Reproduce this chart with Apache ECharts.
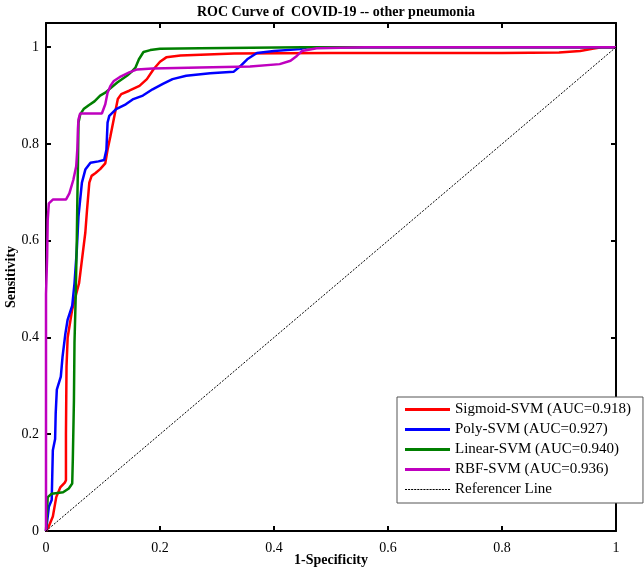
<!DOCTYPE html>
<html>
<head>
<meta charset="utf-8">
<script src="https://cdn.jsdelivr.net/npm/echarts@6/dist/echarts.min.js"></script>
<style>html,body{margin:0;padding:0;background:#fff}#c{width:644px;height:573px}</style>
</head>
<body>
<div id="c"></div>
<script>
const titleText = 'ROC Curve of  COVID-19 -- other pneumonia';
const xName = '1-Specificity';
const yName = 'Sensitivity';
const tickValues = [0, 0.2, 0.4, 0.6, 0.8, 1];
const seriesNames = ['Sigmoid-SVM (AUC=0.918)', 'Poly-SVM (AUC=0.927)', 'Linear-SVM (AUC=0.940)', 'RBF-SVM (AUC=0.936)', 'Referencer Line'];

const sigmoidROC = [[0,0],[0.005,0.01],[0.012,0.03],[0.018,0.07],[0.025,0.09],[0.033,0.1],[0.035,0.105],[0.035,0.2],[0.036,0.34],[0.038,0.4],[0.046,0.458],[0.053,0.49],[0.058,0.512],[0.063,0.56],[0.069,0.617],[0.072,0.664],[0.076,0.72],[0.08,0.734],[0.087,0.74],[0.095,0.748],[0.104,0.76],[0.108,0.788],[0.113,0.816],[0.12,0.858],[0.126,0.893],[0.132,0.903],[0.146,0.91],[0.164,0.92],[0.177,0.934],[0.189,0.955],[0.2,0.97],[0.211,0.979],[0.236,0.983],[0.33,0.987],[0.5,0.988],[0.8,0.988],[0.9,0.989],[0.937,0.992],[0.961,0.997],[0.975,1.0],[1,1]];
const polyROC = [[0,0],[0.003,0.03],[0.005,0.05],[0.01,0.064],[0.012,0.167],[0.016,0.19],[0.017,0.243],[0.019,0.292],[0.026,0.319],[0.029,0.36],[0.034,0.408],[0.038,0.437],[0.046,0.466],[0.05,0.512],[0.054,0.58],[0.057,0.651],[0.063,0.72],[0.069,0.747],[0.078,0.761],[0.092,0.764],[0.102,0.767],[0.106,0.788],[0.108,0.844],[0.111,0.858],[0.123,0.872],[0.14,0.882],[0.152,0.892],[0.17,0.9],[0.187,0.913],[0.205,0.924],[0.222,0.934],[0.246,0.941],[0.288,0.946],[0.329,0.949],[0.341,0.961],[0.353,0.975],[0.37,0.988],[0.4,0.992],[0.446,0.996],[0.458,1.0],[1,1]];
const linearROC = [[0,0],[0.003,0.07],[0.01,0.077],[0.03,0.08],[0.04,0.088],[0.046,0.098],[0.047,0.146],[0.049,0.27],[0.05,0.39],[0.052,0.48],[0.054,0.6],[0.055,0.684],[0.056,0.753],[0.057,0.844],[0.06,0.861],[0.066,0.872],[0.075,0.88],[0.085,0.888],[0.095,0.9],[0.104,0.906],[0.115,0.917],[0.125,0.927],[0.142,0.941],[0.15,0.949],[0.157,0.958],[0.163,0.975],[0.171,0.99],[0.183,0.994],[0.2,0.997],[0.27,0.998],[0.45,1.0],[1,1]];
const rbfROC = [[0,0],[0,0.49],[0.002,0.568],[0.003,0.643],[0.005,0.677],[0.012,0.685],[0.035,0.685],[0.041,0.698],[0.048,0.726],[0.053,0.754],[0.055,0.79],[0.056,0.83],[0.057,0.851],[0.06,0.863],[0.098,0.863],[0.104,0.882],[0.108,0.906],[0.113,0.92],[0.119,0.93],[0.129,0.938],[0.146,0.948],[0.16,0.954],[0.187,0.956],[0.27,0.958],[0.358,0.96],[0.41,0.965],[0.429,0.972],[0.44,0.982],[0.449,0.992],[0.475,0.998],[0.56,1],[1,1]];
const referenceLine = [[0,0],[1,1]];

const FONT = 'Liberation Serif';
const fmt = v => (tickValues.some(t => Math.abs(t - v) < 1e-9) ? String(+v.toFixed(2)) : '');

function axisBase(show) {
  return {
    type: 'value', min: 0, interval: 0.2,
    axisLine: { show: true, onZero: false, lineStyle: { color: '#000', width: 2 } },
    axisTick: { show: true, inside: true, length: 5, lineStyle: { color: '#000', width: 2 } },
    splitLine: { show: false },
    axisLabel: { show: show, color: '#000', fontFamily: FONT, fontSize: 14, formatter: fmt, showMaxLabel: true }
  };
}

// legend glyphs: a solid bar for curves, a dashed bar for the reference line
let dashPath = 'path://';
for (let i = 0; i < 45; i += 3) dashPath += 'M' + i + ',0h2v1h-2z';
const solidIcon = 'path://M0,0h45v3h-45z';

const chart = echarts.init(document.getElementById('c'), null, { renderer: 'canvas' });
const lineSeries = (name, data, color, width, dash, z) => ({
  name, type: 'line', data, xAxisIndex: 0, yAxisIndex: 0, showSymbol: false, symbol: 'none',
  lineStyle: { color, width, type: dash || 'solid' }, itemStyle: { color }, z, silent: true, animation: false
});

chart.setOption({
  animation: false,
  backgroundColor: '#fff',
  title: { text: titleText, left: 331, top: 0, textAlign: 'center',
    textStyle: { fontFamily: FONT, fontSize: 14, fontWeight: 'bold', color: '#000' } },
  grid: { left: 46, right: 28, top: 23, bottom: 42, containLabel: false, outerBoundsMode: 'none' },
  xAxis: [
    Object.assign(axisBase(true), { max: 1, position: 'bottom', name: xName, nameLocation: 'middle', nameGap: 22,
      nameMoveOverlap: false,
      nameTextStyle: { fontFamily: FONT, fontSize: 14, fontWeight: 'bold', color: '#000' },
      axisLabel: Object.assign(axisBase(true).axisLabel, { margin: 10 }) }),
    Object.assign(axisBase(false), { max: 1, position: 'top' })
  ],
  yAxis: [
    Object.assign(axisBase(true), { max: 1.05, position: 'left', name: yName, nameLocation: 'middle', nameGap: 28,
      nameMoveOverlap: false,
      nameTextStyle: { fontFamily: FONT, fontSize: 14, fontWeight: 'bold', color: '#000' },
      axisLabel: Object.assign(axisBase(true).axisLabel, { margin: 7, showMaxLabel: false }) }),
    Object.assign(axisBase(false), { max: 1.05, position: 'right' })
  ],
  legend: {
    orient: 'vertical', left: 397, top: 397, selectedMode: false,
    backgroundColor: '#fff', borderColor: '#555', borderWidth: 1, borderRadius: 0,
    padding: [5, 12, 6, 8], itemWidth: 45, itemHeight: 3, itemGap: 5,
    textStyle: { fontFamily: FONT, fontSize: 15, color: '#000' },
    data: [
      { name: seriesNames[0], icon: solidIcon },
      { name: seriesNames[1], icon: solidIcon },
      { name: seriesNames[2], icon: solidIcon },
      { name: seriesNames[3], icon: solidIcon },
      { name: seriesNames[4], icon: dashPath }
    ]
  },
  series: [
    lineSeries(seriesNames[0], sigmoidROC, '#ff0000', 2.5, null, 2),
    lineSeries(seriesNames[1], polyROC, '#0000ff', 2.5, null, 3),
    lineSeries(seriesNames[2], linearROC, '#007f00', 2.5, null, 4),
    lineSeries(seriesNames[3], rbfROC, '#bf00bf', 2.5, null, 5),
    lineSeries(seriesNames[4], referenceLine, '#000', 1, [2, 1.5], 6)
  ]
});
</script>
</body>
</html>
